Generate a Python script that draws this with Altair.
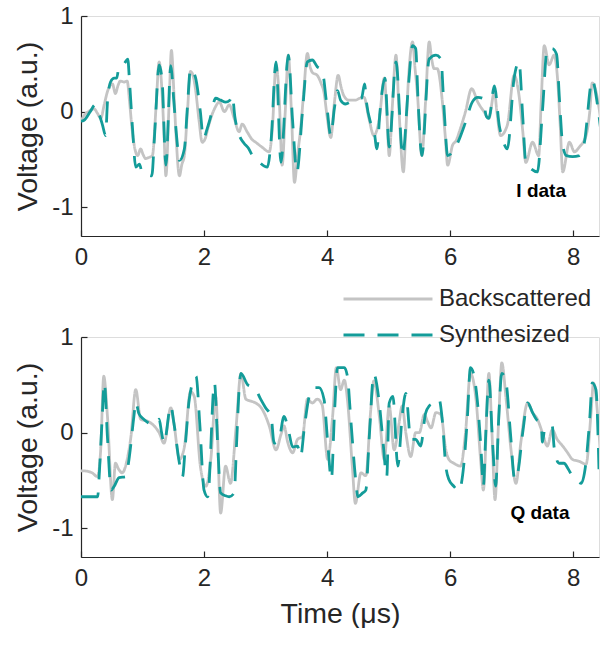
import altair as alt
import pandas as pd

# ---------------- data ----------------
I_back_t = [0.00,0.05,0.12,0.21,0.27,0.32,0.38,0.43,0.51,0.56,0.60,0.64,0.70,0.75,0.79,0.83,0.88,0.92,0.97,1.01,1.05,1.10,1.16,1.22,1.27,1.32,1.35,1.38,1.43,1.47,1.51,1.54,1.60,1.64,1.68,1.73,1.78,1.82,1.86,1.92,1.97,2.02,2.06,2.12,2.17,2.25,2.33,2.41,2.49,2.57,2.62,2.70,2.78,2.84,2.94,3.06,3.11,3.17,3.22,3.27,3.32,3.37,3.42,3.47,3.52,3.57,3.62,3.68,3.72,3.76,3.84,3.90,3.95,4.00,4.06,4.12,4.18,4.23,4.27,4.35,4.46,4.53,4.60,4.68,4.76,4.85,4.93,4.97,5.01,5.06,5.12,5.17,5.24,5.28,5.32,5.39,5.43,5.47,5.54,5.60,5.66,5.70,5.74,5.79,5.87,5.92,5.96,6.04,6.10,6.15,6.25,6.35,6.45,6.55,6.63,6.72,6.76,6.82,6.93,7.04,7.12,7.18,7.23,7.34,7.44,7.48,7.53,7.61,7.69,7.75,7.79,7.83,7.94,8.02,8.10,8.21,8.27,8.31,8.40,8.45]
I_back_v = [-0.10,-0.04,0.00,0.03,-0.02,-0.07,0.08,0.21,0.29,0.19,0.27,0.32,0.31,0.32,0.10,-0.18,-0.40,-0.46,-0.39,-0.45,-0.49,-0.48,-0.46,0.05,0.52,0.17,-0.25,-0.67,0.05,0.64,0.20,-0.19,-0.67,-0.55,-0.46,0.00,0.42,0.38,0.24,-0.10,-0.32,-0.28,-0.18,-0.05,0.03,0.10,0.00,0.07,-0.07,-0.21,-0.13,-0.21,-0.29,-0.32,-0.37,-0.42,-0.18,0.49,0.17,-0.56,0.00,0.59,0.00,-0.74,-0.45,-0.18,0.20,0.61,0.48,0.41,0.38,0.30,0.20,-0.05,-0.27,0.10,0.38,0.25,0.17,0.12,0.12,0.14,0.15,-0.07,-0.25,-0.07,0.35,0.00,-0.46,0.05,0.59,0.00,-0.63,-0.20,0.31,0.73,0.45,0.17,-0.46,0.10,0.73,0.55,0.45,0.45,0.13,-0.25,-0.56,-0.35,-0.30,-0.21,0.00,0.24,0.10,0.00,-0.07,0.21,0.00,-0.25,-0.14,0.38,0.17,-0.20,-0.53,-0.32,-0.46,0.10,0.69,0.49,0.59,0.31,-0.15,-0.63,-0.32,-0.42,-0.37,-0.25,0.00,0.30,0.12,-0.10]

I_syn_t = [0.00,0.05,0.15,0.23,0.28,0.35,0.40,0.43,0.48,0.54,0.58,0.62,0.70,0.76,0.79,0.84,0.89,0.95,1.00,1.08,1.15,1.20,1.27,1.32,1.38,1.46,1.51,1.56,1.60,1.68,1.73,1.78,1.86,1.94,1.99,2.05,2.10,2.19,2.27,2.35,2.42,2.46,2.50,2.57,2.65,2.72,2.78,2.84,2.92,3.03,3.09,3.17,3.25,3.37,3.44,3.51,3.60,3.68,3.76,3.84,3.92,3.99,4.06,4.12,4.17,4.22,4.30,4.38,4.46,4.56,4.61,4.64,4.70,4.76,4.81,4.86,4.94,5.01,5.12,5.23,5.32,5.39,5.44,5.48,5.54,5.66,5.77,5.85,5.90,5.96,6.04,6.12,6.25,6.36,6.45,6.53,6.59,6.63,6.72,6.80,6.85,6.93,7.04,7.12,7.18,7.23,7.32,7.42,7.50,7.58,7.66,7.73,7.78,7.83,7.89,7.99,8.10,8.18,8.31,8.40,8.45]
I_syn_v = [-0.10,-0.09,0.00,0.07,0.00,-0.14,-0.25,0.10,0.31,0.35,0.35,0.48,0.50,0.55,0.30,-0.20,-0.58,-0.55,-0.65,-0.66,-0.67,-0.20,0.49,0.31,-0.56,0.48,0.10,-0.30,-0.51,-0.39,0.05,0.45,0.36,0.00,-0.28,-0.18,-0.07,0.14,0.12,0.10,0.12,0.17,-0.05,-0.24,-0.33,-0.38,-0.45,-0.48,-0.54,-0.58,-0.30,0.52,-0.53,0.59,-0.10,-0.63,0.00,0.52,0.54,0.47,0.43,0.10,-0.25,0.04,0.22,0.12,0.08,0.10,0.12,0.14,0.29,0.10,-0.10,-0.18,-0.39,0.00,0.35,-0.37,0.52,-0.46,0.25,0.69,0.66,0.10,-0.46,0.55,0.59,0.55,0.05,-0.46,-0.42,-0.33,-0.11,0.10,0.15,0.14,-0.05,-0.07,0.27,-0.15,-0.28,-0.39,0.35,0.52,-0.05,-0.53,-0.60,-0.63,0.00,0.66,0.66,0.60,0.10,-0.35,-0.46,-0.47,-0.46,-0.33,0.33,0.05,-0.20]

Q_back_t = [0.00,0.05,0.18,0.27,0.32,0.37,0.43,0.51,0.56,0.61,0.67,0.75,0.81,0.89,0.97,1.08,1.19,1.27,1.35,1.46,1.51,1.60,1.68,1.78,1.84,1.94,2.03,2.11,2.19,2.27,2.35,2.43,2.52,2.60,2.68,2.76,2.84,2.94,3.06,3.17,3.25,3.30,3.36,3.44,3.52,3.60,3.68,3.76,3.84,3.92,4.01,4.09,4.15,4.22,4.28,4.33,4.41,4.46,4.55,4.63,4.71,4.76,4.85,4.93,5.01,5.09,5.17,5.22,5.28,5.36,5.44,5.50,5.58,5.63,5.69,5.77,5.85,5.93,5.98,6.06,6.17,6.25,6.33,6.42,6.50,6.54,6.63,6.68,6.73,6.79,6.84,6.91,6.99,7.07,7.15,7.26,7.34,7.42,7.50,7.58,7.66,7.74,7.83,7.91,7.99,8.10,8.21,8.29,8.33,8.40,8.45]
Q_back_v = [-0.40,-0.40,-0.42,-0.46,-0.18,0.59,0.17,-0.70,-0.32,-0.38,-0.42,-0.28,-0.05,0.45,0.14,0.12,0.07,0.00,-0.11,0.26,0.10,-0.28,-0.15,0.43,0.38,-0.35,-0.56,-0.28,0.38,-0.84,-0.35,-0.53,0.05,0.62,0.35,0.33,0.31,0.25,0.07,-0.18,-0.02,0.07,-0.10,-0.21,-0.07,-0.04,0.35,0.31,0.35,0.29,-0.28,0.17,0.68,0.45,0.55,0.35,-0.35,-0.74,-0.42,-0.45,0.24,0.54,0.17,-0.28,0.28,-0.18,0.10,0.28,0.00,-0.25,0.00,0.00,0.19,0.12,0.05,0.21,0.19,-0.18,-0.28,-0.32,-0.35,0.00,0.62,0.35,-0.32,-0.60,0.62,0.00,-0.70,0.15,0.73,0.35,-0.18,-0.53,-0.10,0.31,0.21,0.14,0.00,-0.14,0.03,-0.07,-0.14,-0.21,-0.28,-0.30,-0.33,0.20,0.52,0.17,-0.30]

Q_syn_t = [0.00,0.05,0.15,0.27,0.30,0.34,0.38,0.43,0.49,0.54,0.62,0.73,0.78,0.86,0.89,0.94,1.02,1.10,1.19,1.27,1.31,1.35,1.46,1.51,1.60,1.65,1.70,1.76,1.87,1.93,2.00,2.06,2.17,2.22,2.27,2.35,2.41,2.49,2.53,2.57,2.60,2.71,2.82,2.92,3.00,3.09,3.14,3.22,3.30,3.38,3.44,3.52,3.57,3.63,3.71,3.79,3.87,3.95,4.01,4.07,4.12,4.17,4.28,4.33,4.39,4.46,4.50,4.58,4.63,4.69,4.76,4.85,4.91,4.97,5.01,5.07,5.15,5.22,5.28,5.36,5.44,5.52,5.60,5.66,5.74,5.82,5.87,5.93,5.98,6.06,6.14,6.22,6.28,6.33,6.38,6.44,6.50,6.54,6.58,6.63,6.69,6.74,6.79,6.84,6.91,6.98,7.05,7.10,7.18,7.26,7.34,7.40,7.48,7.50,7.54,7.58,7.66,7.69,7.77,7.85,7.92,7.99,8.06,8.13,8.21,8.27,8.31,8.37,8.42]
Q_syn_v = [-0.67,-0.67,-0.67,-0.67,-0.40,0.10,0.52,-0.05,-0.60,-0.56,-0.47,-0.46,-0.28,0.17,0.32,0.20,0.14,0.10,0.08,0.14,0.00,-0.11,0.28,0.10,-0.32,-0.46,-0.10,0.35,0.59,0.10,-0.60,-0.67,0.52,-0.10,-0.63,-0.66,-0.67,-0.63,-0.10,0.45,0.62,0.50,0.47,0.35,0.26,0.17,-0.11,-0.07,0.17,0.00,-0.15,-0.14,-0.25,0.05,0.38,0.47,0.47,0.35,-0.10,-0.49,0.20,0.68,0.68,0.59,0.10,-0.46,-0.67,-0.63,-0.60,0.00,0.61,0.30,-0.10,-0.46,0.31,0.38,-0.35,0.17,0.41,-0.07,-0.07,-0.14,0.20,0.28,0.31,0.35,0.15,-0.35,-0.49,-0.56,-0.61,-0.35,0.15,0.68,0.62,0.35,-0.15,-0.56,0.00,0.55,-0.10,-0.56,0.15,0.62,0.52,0.00,-0.49,-0.42,0.00,0.31,0.21,0.14,0.10,-0.10,0.05,0.07,0.07,-0.15,-0.32,-0.32,-0.38,-0.46,-0.50,-0.53,-0.30,0.15,0.52,0.45,-0.40]

SERIES = ["Backscattered", "Synthesized"]
X_TICKS = [0, 2, 4, 6, 8]
Y_TICKS = [-1, 0, 1]
X_DOMAIN = [0, 8.42]
Y_DOMAIN = [-1.3, 1]
PANEL_LABELS = ["I data", "Q data"]
LABEL_T = [7.48, 7.46]
LABEL_V = [-0.83, -0.84]

# ---------------- style ----------------
FONT = "Liberation Sans"
GRAY = "#c4c4c4"
TEAL = "#139c99"
AXIS = "#262626"
W, H = 518, 220


def panel(tb, vb, ts, vs, idx, x_title, show_legend):
    df = pd.concat([
        pd.DataFrame({"t": tb, "v": vb, "series": SERIES[0]}),
        pd.DataFrame({"t": ts, "v": vs, "series": SERIES[1]}),
    ])
    common = dict(grid=False, labelFont=FONT, labelFontSize=24, labelColor=AXIS,
                  domainColor=AXIS, domainWidth=1.2, ticks=True,
                  tickSize=alt.ExprRef(expr="-6"), tickColor=AXIS, tickWidth=1.2,
                  titleFont=FONT, titleFontSize=28.5, titleFontWeight="normal",
                  titleColor=AXIS, format="d")
    x_axis = alt.Axis(values=X_TICKS, labelPadding=15, labelFlush=False,
                      title=x_title, titlePadding=9, **common)
    y_axis = alt.Axis(values=Y_TICKS, labelPadding=14,
                      labelExpr="replace(datum.label, '\u2212', '-')",
                      title="Voltage (a.u.)", titlePadding=9, **common)
    x = alt.X("t:Q", scale=alt.Scale(domain=X_DOMAIN, nice=False, zero=False), axis=x_axis)
    y = alt.Y("v:Q", scale=alt.Scale(domain=Y_DOMAIN, nice=False, zero=False), axis=y_axis)

    if show_legend:
        leg = alt.Legend(title=None, orient="none", legendX=294, legendY=-51,
                         symbolType="M-4,0H4", symbolSize=495, symbolStrokeWidth=3,
                         labelFont=FONT, labelFontSize=24, labelColor=AXIS,
                         labelOffset=38, rowPadding=11, padding=0)
    else:
        leg = None

    lines = alt.Chart(df).mark_line(clip=True, strokeWidth=2.8, interpolate="monotone").encode(
        x=x, y=y,
        color=alt.Color("series:N", scale=alt.Scale(domain=SERIES, range=[GRAY, TEAL]), legend=leg),
        strokeDash=alt.StrokeDash("series:N", scale=alt.Scale(domain=SERIES, range=[[1, 0], [21, 13]]), legend=leg),
    )

    lab = pd.DataFrame({"t": [LABEL_T[idx]], "v": [LABEL_V[idx]], "txt": [PANEL_LABELS[idx]]})
    text = alt.Chart(lab).mark_text(font=FONT, fontSize=19, fontWeight="bold", color="black").encode(
        x="t:Q", y="v:Q", text="txt:N")

    return alt.layer(lines, text).properties(width=W, height=H)


top = panel(I_back_t, I_back_v, I_syn_t, I_syn_v, 0, None, False)
bottom = panel(Q_back_t, Q_back_v, Q_syn_t, Q_syn_v, 1, "Time (\u03bcs)", True)

chart = alt.vconcat(top, bottom, spacing=15).resolve_scale(
    color="independent", strokeDash="independent"
).resolve_legend(
    color="independent", strokeDash="independent"
).properties(
    padding={"left": 13, "top": 3, "right": 0, "bottom": 0}
).configure_view(stroke=None).configure(background="white")

chart.save("out.html", embed_options={"renderer": "svg", "actions": False})
